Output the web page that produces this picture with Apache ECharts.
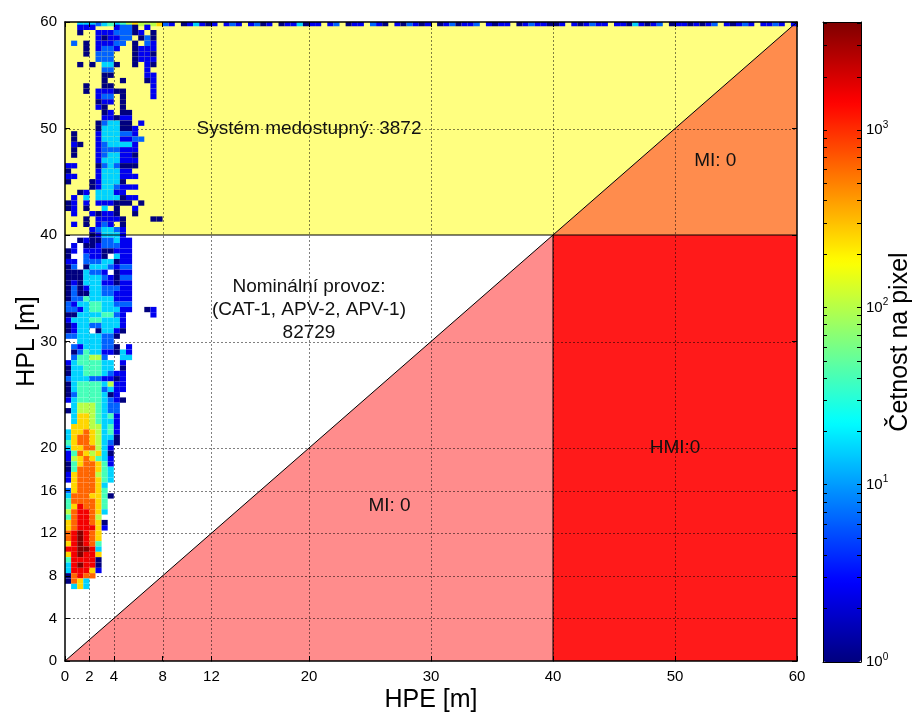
<!DOCTYPE html>
<html><head><meta charset="utf-8">
<script src="https://cdn.jsdelivr.net/npm/echarts@6/dist/echarts.min.js"></script>
<style>html,body{margin:0;padding:0;background:#fff}#c{width:915px;height:714px}</style>
</head><body><div id="c"></div><script>
// ---------- axis ticks ----------
const X_TICKS = [0, 2, 4, 8, 12, 20, 30, 40, 50, 60];
const Y_TICKS = [0, 4, 8, 12, 16, 20, 30, 40, 50, 60];
const GRID_X = [2, 4, 8, 12, 20, 30, 40, 50];
const GRID_Y = [4, 8, 12, 16, 20, 30, 50];
const CBAR_MAJOR = [0, 1, 2, 3];          // log10 of 1,10,100,1000
const CBAR_MAX = 3.61;                    // log10 of top of colour bar

// ---------- regions of the Stanford diagram ----------
const REGION_POLYS = [
  [[0, 40], [40, 40], [60, 60], [0, 60]],   // system unavailable
  [[40, 40], [60, 60], [60, 40]],           // MI (unavailable)
  [[0, 0], [40, 40], [40, 0]],              // MI
  [[40, 0], [60, 0], [60, 40], [40, 40]]    // HMI
];
const REGION_COLORS = ['#FFFF80', '#FF8C4D', '#FF8C8C', '#FF1A1A'];
const LINES = [
  [[0, 0], [60, 60]],
  [[0, 40], [60, 40]],
  [[40, 0], [40, 40]]
];

// ---------- annotations ----------
const ANNO_TEXT = ['Systém medostupný: 3872', 'MI: 0', 'Nominální provoz:\n(CAT-1, APV-2, APV-1)\n82729', 'MI: 0', 'HMI:0'];
const ANNO_X = [20, 53.3, 20, 26.6, 50];
const ANNO_Y = [50, 47, 33, 14.6, 20];

// ---------- 2-D histogram (0.5 m bins) ----------
// each char = one 0.5 m HPE bin starting at 0; '.' empty, digit = level index
const LEVEL_LOG10 = [0, 0.4, 0.8, 1.2, 1.6, 2.0, 2.4, 2.8, 3.2, 3.6];
const HEAT_BIN = 0.5;
const HEAT_Y = [59.85,
 59.5,59,58.5,58,57.5,57,56.5,56,55.5,55,54.5,54,53.5,53,52.5,52,51.5,51,50.5,50,
 49.5,49,48.5,48,47.5,47,46.5,46,45.5,45,44.5,44,43.5,43,42.5,42,41.5,41,40.5,
 40,39.5,39,38.5,38,37.5,37,36.5,36,35.5,35,34.5,34,33.5,33,32.5,32,31.5,31,30.5,30,
 29.5,29,28.5,28,27.5,27,26.5,26,25.5,25,24.5,24,23.5,23,22.5,22,21.5,21,20.5,
 20,19.5,19,18.5,18,17.5,17,16.5,16,15.5,15,14.5,14,13.5,13,12.5,12,11.5,11,10.5,
 10,9.5,9,8.5,8,7.5,7];
const HEAT_ROWS = [
 "..33323434565556" + "21.01310" + "1.121.12" + "01.01130" + "11.12.01" + "1.210.10" + "2101.012" +
   "0112.101" + "1.012110" + "01.10121" + "1.110310" + "12.01101" + "012.1012" + "1.1121.1",
 "..111...1220.1..", "..0..11122201.0.", ".....101122.020.", ".2.0.11122.0.21.",
 "...0.1221..0111.", "...0.222...0110.", ".....222...0111.", "..0.0.330..0.10.",
 "......22.....1..", "......00.....11.", "......0..0...01.", "...0..00......1.",
 "...0.11100....1.", ".....122.0....1.", ".....011.0......", ".....10..0......",
 "......01.00.....", "......11011.....", ".....023300.1...", ".....0333001....",
 ".0...1333221....", ".0...13331122...", ".10..1233331....", ".0...1222111....",
 ".0...1233110....", ".....1333111....", "11...0232000....", "0....133311.....",
 "11...1333111....", "0...013330......", "....01332111....", "..01.33311......",
 ".1.3.3333011....", "01.1.111000.0...", "01.0..3.0..1....", ".1..10110..0....",
 "...0.11110....00", ".1.0.121.0......", "....123321......",
 "....013331......", "..010022311.....", ".1.00122211.....", "01.11100111.....",
 "0..2110.311.....", "11.22233011.....", "02.03332122.....", "0003221.011.....",
 "00033321022.....", "01033311011.....", "02013322211.....", "02003322111.....",
 "02243333111.....", "21334433222.....", "22134433311..01.", "0033334421....1.",
 "1333443331......", "0133223331......", "0133.03310......", "223333220.......",
 "..333322........", ".21333220.1.....", ".0243311031.....", ".244552..33.....",
 "13444433.1......", "03344433.0......", "0334443211......", "2333221101......",
 "0344443511......", "0344442311......", "024444301.......", "1344443210......",
 ".35554322.......", "035554322.......", ".36654341.......", ".36654331.......",
 ".66655341.......", "366765341.......", "367765330.......", "467765320.......",
 "36677531........", "14765630........", "15676431........", "04677641........",
 "04777643........", "16777543........", "16777643........", ".677763.........",
 "2677764.........", "37776640........", "4777764.........", "4687764.........",
 "5788763.........", "478875..........", "6788760.........", "6788861.........",
 "789876..........", "789876..........", "689874..........", "889983..........",
 "689886..........", "488880..........", "389880..........", "388861..........",
 "07877...........", "0763............", ".363............"
];

const JET = ['#00007F', '#0000FF', '#007FFF', '#00FFFF', '#7FFF7F', '#FFFF00', '#FF7F00', '#FF0000', '#7F0000'];
const FONT = 'Liberation Sans';

// ---------- build data ----------
const heatData = [];
HEAT_ROWS.forEach((row, i) => {
  for (let c = 0; c < row.length; c++) {
    const ch = row[c];
    if (ch !== '.') heatData.push([c * HEAT_BIN, HEAT_Y[i], LEVEL_LOG10[+ch]]);
  }
});
const cbarTicks = [];
for (let n = 0; n < 4; n++) for (let k = 1; k < 10; k++) {
  const v = Math.log10(k) + n;
  if (v <= CBAR_MAX) cbarTicks.push(v);
}
const gridData = GRID_X.map(v => [0, v]).concat(GRID_Y.map(v => [1, v]));

const chart = echarts.init(document.getElementById('c'), null, {renderer: 'canvas'});

function clipTo(params, r) {
  return echarts.graphic.clipRectByRect(r, {
    x: params.coordSys.x, y: params.coordSys.y,
    width: params.coordSys.width, height: params.coordSys.height
  });
}

const mainAxisCommon = {
  type: 'value', min: 0, max: 60, z: 10,
  axisLine: {show: true, onZero: false, lineStyle: {color: '#000', width: 1.5}},
  splitLine: {show: false}
};
const TITLE_STYLE = {color: '#000', fontSize: 25, fontFamily: FONT};

const option = {
  backgroundColor: '#fff',
  animation: false,
  grid: [
    {left: 65, top: 22, width: 732, height: 639, containLabel: false, outerBoundsMode: 'none'},
    {left: 823, top: 22, width: 38, height: 640, containLabel: false, outerBoundsMode: 'none'}
  ],
  visualMap: {
    type: 'continuous', min: 0, max: CBAR_MAX, dimension: 2, seriesIndex: 2,
    inRange: {color: JET}, calculable: false, show: true, orient: 'vertical',
    left: 823, top: 22, itemWidth: 38, itemHeight: 640, padding: 0, text: null,
    showLabel: false, hoverLink: false
  },
  xAxis: [
    Object.assign({}, mainAxisCommon, {
      gridIndex: 0, position: 'bottom',
      axisTick: {show: true, inside: true, length: 5, customValues: X_TICKS, lineStyle: {color: '#000'}},
      axisLabel: {customValues: X_TICKS, color: '#000', fontSize: 15, fontFamily: FONT, margin: 8},
      name: 'HPE [m]', nameLocation: 'middle', nameGap: 27, nameMoveOverlap: false,
      nameTextStyle: Object.assign({verticalAlign: 'top'}, TITLE_STYLE)
    }),
    Object.assign({}, mainAxisCommon, {
      gridIndex: 0, position: 'top',
      axisTick: {show: true, inside: true, length: 5, customValues: X_TICKS, lineStyle: {color: '#000'}},
      axisLabel: {show: false}
    }),
    {gridIndex: 1, type: 'value', min: 0, max: 1, position: 'bottom', z: 10,
      axisLine: {show: true, onZero: false, lineStyle: {color: '#000', width: 1}},
      axisTick: {show: false}, axisLabel: {show: false}, splitLine: {show: false}},
    {gridIndex: 1, type: 'value', min: 0, max: 1, position: 'top', z: 10,
      axisLine: {show: true, onZero: false, lineStyle: {color: '#000', width: 1}},
      axisTick: {show: false}, axisLabel: {show: false}, splitLine: {show: false}}
  ],
  yAxis: [
    Object.assign({}, mainAxisCommon, {
      gridIndex: 0, position: 'left',
      axisTick: {show: true, inside: true, length: 5, customValues: Y_TICKS, lineStyle: {color: '#000'}},
      axisLabel: {customValues: Y_TICKS, color: '#000', fontSize: 15, fontFamily: FONT, margin: 8},
      name: 'HPL [m]', nameLocation: 'middle', nameGap: 25, nameMoveOverlap: false,
      nameTextStyle: TITLE_STYLE
    }),
    Object.assign({}, mainAxisCommon, {
      gridIndex: 0, position: 'right',
      axisTick: {show: true, inside: true, length: 5, customValues: Y_TICKS, lineStyle: {color: '#000'}},
      axisLabel: {show: false}
    }),
    {gridIndex: 1, type: 'value', min: 0, max: CBAR_MAX, position: 'left', z: 10,
      axisLine: {show: true, onZero: false, lineStyle: {color: '#000', width: 1}},
      axisTick: {show: true, inside: true, length: 4, customValues: cbarTicks, lineStyle: {color: '#000'}},
      axisLabel: {show: false}, splitLine: {show: false}},
    {gridIndex: 1, type: 'value', min: 0, max: CBAR_MAX, position: 'right', z: 10,
      axisLine: {show: true, onZero: false, lineStyle: {color: '#000', width: 1}},
      axisTick: {show: true, inside: true, length: 4, customValues: cbarTicks, lineStyle: {color: '#000'}},
      axisLabel: {
        customValues: CBAR_MAJOR, margin: 5,
        formatter: v => '{b|10}{s|' + Math.round(v) + '}',
        rich: {
          b: {fontSize: 15, fontFamily: FONT, color: '#000'},
          s: {fontSize: 10, fontFamily: FONT, color: '#000', padding: [0, 0, 10, 0]}
        }
      },
      splitLine: {show: false},
      name: 'Četnost na pixel', nameLocation: 'middle', nameGap: 27, nameRotate: 90, nameMoveOverlap: false,
      nameTextStyle: TITLE_STYLE
    }
  ],
  series: [
    { // 0 regions
      type: 'custom', xAxisIndex: 0, yAxisIndex: 0, z: 1, silent: true,
      data: REGION_POLYS.map((p, i) => [i, 0]),
      renderItem: (params, api) => ({
        type: 'polygon',
        shape: {points: REGION_POLYS[params.dataIndex].map(pt => api.coord(pt))},
        style: {fill: REGION_COLORS[params.dataIndex], stroke: null}
      })
    },
    { // 1 dotted grid
      type: 'custom', xAxisIndex: 0, yAxisIndex: 0, z: 2, silent: true,
      data: gridData,
      renderItem: (params, api) => {
        const kind = api.value(0), v = api.value(1);
        const a = kind === 0 ? api.coord([v, 0]) : api.coord([0, v]);
        const b = kind === 0 ? api.coord([v, 60]) : api.coord([60, v]);
        return {type: 'line', shape: {x1: Math.round(a[0]) + 0.5, y1: Math.round(a[1]) + 0.5, x2: Math.round(b[0]) + 0.5, y2: Math.round(b[1]) + 0.5},
          style: {stroke: '#000', lineWidth: 1, lineDash: [1, 3]}};
      }
    },
    { // 2 heat map
      type: 'custom', xAxisIndex: 0, yAxisIndex: 0, z: 3, silent: true,
      data: heatData,
      renderItem: (params, api) => {
        const x = api.value(0), y = api.value(1);
        const p1 = api.coord([x, y + HEAT_BIN / 2]);
        const p2 = api.coord([x + HEAT_BIN, y - HEAT_BIN / 2]);
        const r = clipTo(params, {x: p1[0], y: p1[1], width: p2[0] - p1[0], height: p2[1] - p1[1]});
        if (!r) return null;
        return {type: 'rect', shape: r, style: {fill: api.visual('color'), stroke: null}};
      }
    },
    ...LINES.map(l => ({
      type: 'line', xAxisIndex: 0, yAxisIndex: 0, z: 4, silent: true, symbol: 'none',
      data: l, lineStyle: {color: '#000', width: 1}
    })),
    { // annotations
      type: 'custom', xAxisIndex: 0, yAxisIndex: 0, z: 6, silent: true,
      data: ANNO_X.map((x, i) => [x, ANNO_Y[i]]),
      renderItem: (params, api) => {
        const p = api.coord([api.value(0), api.value(1)]);
        return {type: 'text', x: p[0], y: p[1],
          style: {text: ANNO_TEXT[params.dataIndex], fill: '#111', font: '19px "' + FONT + '"',
            align: 'center', verticalAlign: 'middle', lineHeight: 23}};
      }
    }
  ]
};
chart.setOption(option);
</script></body></html>
